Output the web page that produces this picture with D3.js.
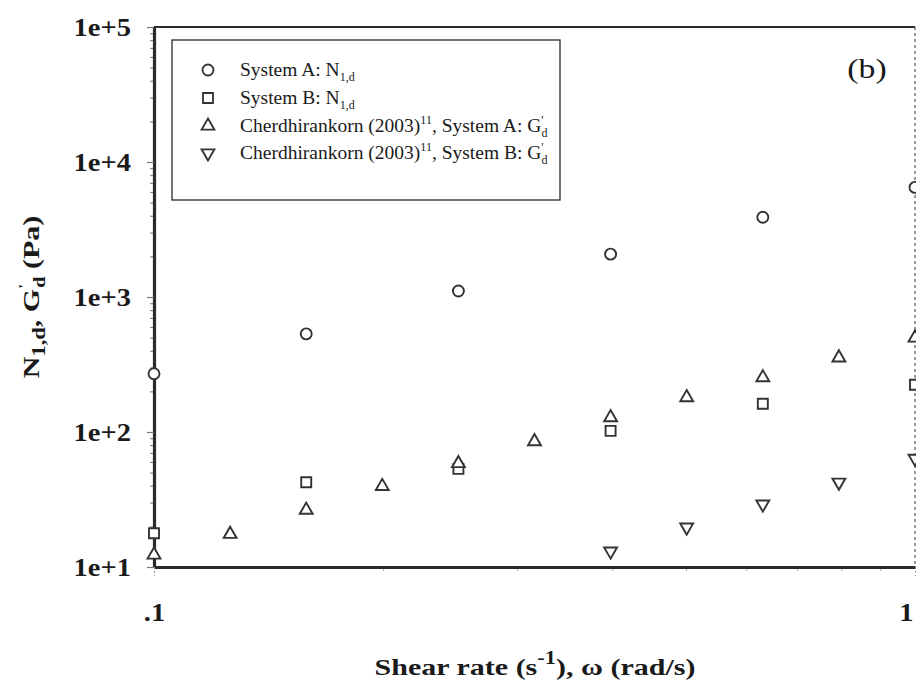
<!DOCTYPE html>
<html>
<head>
<meta charset="utf-8">
<script src="https://cdn.jsdelivr.net/npm/d3@7"></script>
<style>
  html, body { margin: 0; padding: 0; background: #fff; overflow: hidden; }
  svg { display: block; }
</style>
</head>
<body>
<svg id="chart" width="916" height="691"></svg>
<script>
// Shear rate / frequency positions of each series (s^-1 or rad/s)
const ratesN1d = [0.1, 0.1585, 0.2512, 0.3981, 0.631, 1.0];
const ratesGdA = [0.1, 0.1259, 0.1585, 0.1995, 0.2512, 0.3162, 0.3981, 0.5012, 0.631, 0.7943, 1.0];
const ratesGdB = [0.3981, 0.5012, 0.631, 0.7943, 1.0];

// Series values (Pa)
const systemA_N1d = [270, 533, 1107, 2077, 3894, 6486];
const systemB_N1d = [17.8, 42.4, 53.3, 102, 162, 224];
const systemA_Gd  = [12.3, 17.5, 26.4, 39.6, 58.5, 85.1, 128, 180, 253, 355, 498];
const systemB_Gd  = [13.1, 19.7, 29.2, 42.4, 63.7];

// Axis ticks
const yTickValues = [10, 100, 1000, 10000, 100000];
const yTickLabels = ["1e+1", "1e+2", "1e+3", "1e+4", "1e+5"];
const xTickValues = [0.1, 1];
const xTickLabels = [".1", "1"];

// Legend marker order
const legendKeys = ["circle", "square", "triangle", "triangleDown"];

const svg = d3.select("#chart");
const serif = "'Liberation Serif', 'Times New Roman', serif";
const ink = "#1a1a1a";
const markInk = "#333";

const x = d3.scaleLog().domain([0.1, 1]).range([154, 915]);
const y = d3.scaleLog().domain([10, 1e5]).range([567, 27]);

// ---- frame: top and right borders
svg.append("line")
  .attr("x1", x(0.1)).attr("x2", x(1)).attr("y1", y(1e5)).attr("y2", y(1e5))
  .attr("stroke", "#2a2a2a").attr("stroke-width", 2.2);
svg.append("line")
  .attr("x1", x(1)).attr("x2", x(1)).attr("y1", y(1e5)).attr("y2", y(10))
  .attr("stroke", "#555").attr("stroke-width", 1.2).attr("stroke-dasharray", "3,3");

// ---- y axis: minor ticks
const yMinor = y.ticks().filter(v => !yTickValues.some(t => Math.abs(t - v) / t < 1e-6));
svg.append("g")
  .attr("transform", `translate(${x(0.1)},0)`)
  .call(d3.axisLeft(y).tickValues(yMinor).tickFormat("").tickSize(4).tickSizeOuter(0))
  .call(g => g.select(".domain").remove())
  .call(g => g.selectAll(".tick line").attr("stroke", "#8a8a8a").attr("stroke-width", 1.2));

// ---- y axis: major ticks + labels
const yAxis = svg.append("g")
  .attr("transform", `translate(${x(0.1)},0)`)
  .call(d3.axisLeft(y).tickValues(yTickValues)
    .tickFormat((d, i) => yTickLabels[i]).tickSize(7).tickSizeOuter(0));
yAxis.select(".domain").attr("stroke", "#2a2a2a").attr("stroke-width", 3.2);
yAxis.selectAll(".tick line").attr("stroke", "#777").attr("stroke-width", 1.2);
yAxis.selectAll(".tick text")
  .attr("x", 0).attr("dy", "0.35em")
  .attr("transform", "translate(-23,0) scale(1.14,1)")
  .attr("text-anchor", "end")
  .attr("font-family", serif).attr("font-weight", "bold")
  .attr("font-size", 25).attr("fill", ink);

// ---- x axis: minor ticks
const xMinor = x.ticks().filter(v => !xTickValues.some(t => Math.abs(t - v) / t < 1e-6));
svg.append("g")
  .attr("transform", `translate(0,${y(10)})`)
  .call(d3.axisBottom(x).tickValues(xMinor).tickFormat("").tickSize(4).tickSizeOuter(0))
  .call(g => g.select(".domain").remove())
  .call(g => g.selectAll(".tick line").attr("stroke", "#b0b0b0").attr("stroke-width", 1));

// ---- x axis: major ticks + labels
const xAxis = svg.append("g")
  .attr("transform", `translate(0,${y(10)})`)
  .call(d3.axisBottom(x).tickValues(xTickValues)
    .tickFormat((d, i) => xTickLabels[i]).tickSize(9).tickSizeOuter(0));
xAxis.select(".domain").attr("stroke", "#2a2a2a").attr("stroke-width", 3.2);
xAxis.selectAll(".tick line").attr("stroke", "#999").attr("stroke-width", 1).attr("stroke-dasharray", "2,2");
xAxis.selectAll(".tick text")
  .attr("y", 0).attr("dy", 0)
  .attr("transform", (d, i) => i === xTickValues.length - 1
    ? "translate(-9,54) scale(1.14,1)" : "translate(0,54) scale(1.14,1)")
  .attr("text-anchor", "middle")
  .attr("font-family", serif).attr("font-weight", "bold")
  .attr("font-size", 25).attr("fill", ink);

// ---- markers
const symbolPath = {
  circle: d3.symbol().type(d3.symbolCircle).size(95)(),
  square: d3.symbol().type(d3.symbolSquare).size(100)(),
  triangle: d3.symbol().type(d3.symbolTriangle).size(72)(),
  triangleDown: d3.symbol().type(d3.symbolTriangle).size(72)()
};
const symbolRotate = { circle: 0, square: 0, triangle: 0, triangleDown: 180 };

function drawSeries(rates, values, key) {
  svg.append("g").selectAll("path")
    .data(rates.map((r, i) => ({ r, v: values[i] })))
    .join("path")
    .attr("d", symbolPath[key])
    .attr("transform", d => `translate(${x(d.r)},${y(d.v)}) rotate(${symbolRotate[key]})`)
    .attr("fill", "#fff")
    .attr("stroke", markInk)
    .attr("stroke-width", 1.9);
}
drawSeries(ratesN1d, systemA_N1d, "circle");
drawSeries(ratesN1d, systemB_N1d, "square");
drawSeries(ratesGdA, systemA_Gd, "triangle");
drawSeries(ratesGdB, systemB_Gd, "triangleDown");

// ---- legend
const legend = svg.append("g");
legend.append("rect")
  .attr("x", 172).attr("y", 40).attr("width", 388).attr("height", 160)
  .attr("fill", "#fff").attr("stroke", "#2a2a2a").attr("stroke-width", 1.3);

const rowY = [70, 98, 126, 153];
legendKeys.forEach((key, i) => {
  legend.append("path")
    .attr("d", symbolPath[key])
    .attr("transform", `translate(208,${rowY[i]}) rotate(${symbolRotate[key]})`)
    .attr("fill", "#fff").attr("stroke", markInk).attr("stroke-width", 1.8);
});

function legendText(i) {
  return legend.append("text")
    .attr("x", 240).attr("y", rowY[i] + 6)
    .attr("font-family", serif).attr("font-size", 19.5).attr("fill", ink);
}
function addN1d(t, label) {
  t.append("tspan").text(label + ": N");
  t.append("tspan").attr("font-size", 12).attr("dy", 5).text("1,d");
}
function addGd(t, label) {
  t.append("tspan").text("Cherdhirankorn (2003)");
  t.append("tspan").attr("font-size", 12).attr("dy", -8).text("11");
  t.append("tspan").attr("dy", 8).text(", " + label + ": G");
  t.append("tspan").attr("font-size", 12).attr("dy", -8).text("'");
  t.append("tspan").attr("font-size", 12).attr("dx", -2).attr("dy", 13).text("d");
}
addN1d(legendText(0), "System A");
addN1d(legendText(1), "System B");
addGd(legendText(2), "System A");
addGd(legendText(3), "System B");

// panel tag
svg.append("g").attr("transform", "translate(867,78) scale(1.25,1)")
  .append("text").attr("text-anchor", "middle")
  .attr("font-family", serif).attr("font-size", 27).attr("fill", ink)
  .text("(b)");

// ---- axis titles
const xTitle = svg.append("g").attr("transform", "translate(535,675) scale(1.25,1)")
  .append("text").attr("text-anchor", "middle")
  .attr("font-family", serif).attr("font-weight", "bold").attr("font-size", 24).attr("fill", ink);
xTitle.append("tspan").text("Shear rate (s");
xTitle.append("tspan").attr("font-size", 18).attr("dy", -11).text("-1");
xTitle.append("tspan").attr("dy", 11).text("), \u03c9 (rad/s)");

const yTitle = svg.append("g").attr("transform", "translate(39,297) rotate(-90) scale(1.25,1)")
  .append("text").attr("text-anchor", "middle")
  .attr("font-family", serif).attr("font-weight", "bold").attr("font-size", 24).attr("fill", ink);
yTitle.append("tspan").text("N");
yTitle.append("tspan").attr("font-size", 18).attr("dy", 6).text("1,d");
yTitle.append("tspan").attr("dy", -6).text(", G");
yTitle.append("tspan").attr("font-size", 14).attr("dy", -10).text("'");
yTitle.append("tspan").attr("font-size", 16).attr("dx", -3).attr("dy", 16).text("d");
yTitle.append("tspan").attr("dy", -6).text(" (Pa)");
</script>
</body>
</html>
